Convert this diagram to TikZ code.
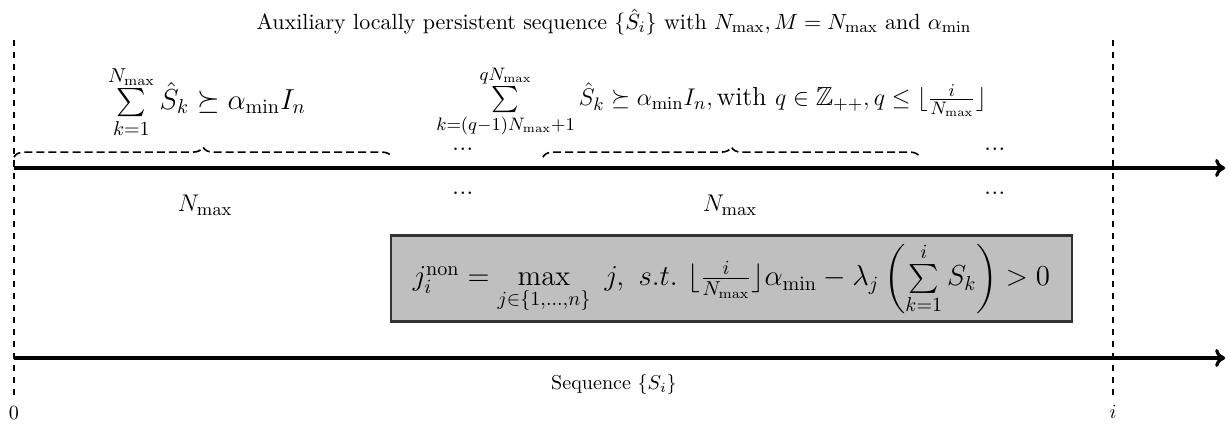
\documentclass[tikz,border=0pt]{standalone}
\usepackage{amsmath,amssymb}
\usepackage{tikz}
\usetikzlibrary{arrows.meta,decorations.pathreplacing,positioning}

\begin{document}
\begin{tikzpicture}[>={To[length=5pt,width=9pt]},
    axis/.style={->,ultra thick},
    bound/.style={dashed,thick},
    dbrace/.style={decorate,decoration={brace,amplitude=5pt},thick,dash pattern=on 4pt off 2pt},
    formula/.style={font=\fontsize{13}{15}\selectfont},
    condbox/.style={font=\fontsize{14.4}{17}\selectfont,draw=black!80,line width=1.2pt,fill=black!25,minimum width=11.92cm,minimum height=1.49cm}]
    \useasboundingbox (0,0) rectangle (21.5075,7.56);
    \coordinate (A0) at (0.245,4.62);
    \coordinate (A1) at (21.44,4.62);
    \coordinate (B0) at (0.245,1.295);
    \coordinate (B1) at (21.44,1.295);
    % bounds 0 and i
    \node (zero) at (0.245,0.33) {$0$};
    \node (idx) at (19.48,0.35) {$i$};
    \draw[bound] (0.245,6.86) coordinate (T0) -- (zero.north);
    \draw[bound] (19.48,6.86) coordinate (Ti) -- (idx.north);
    % auxiliary sequence
    \node[font=\fontsize{10.95}{13}\selectfont] (title) at (10.745,7.175) {Auxiliary locally persistent sequence $\{\hat{S}_i\}$ with $N_{\max}, M=N_{\max}$ and $\alpha_{\min}$};
    \draw[axis] (A0) -- (A1);
    \node[formula,font=\fontsize{14}{16}\selectfont] (first) at (3.62,5.78) {$\sum\limits_{k=1}^{N_{\max}} \hat{S}_k \succeq \alpha_{\min} I_n$};
    \node[formula] (block) at (12.45,5.78) {$\sum\limits_{k=(q-1)N_{\max}+1}^{qN_{\max}} \hat{S}_k \succeq \alpha_{\min} I_n, \text{with}\ q \in \mathbb{Z}_{++}, q \leq \lfloor \frac{i}{N_{\max}} \rfloor$};
    \draw[dbrace] (0.245,4.81) -- (6.86,4.81);
    \draw[dbrace] (9.50,4.81) -- (16.10,4.81);
    \node[formula] (n1) at (3.59,3.97) {$N_{\max}$};
    \node[formula] (n2) at (12.775,3.97) {$N_{\max}$};
    \foreach \x/\n in {8.10/a,17.41/b} {
        \node[formula] (up\n) at (\x,4.95) {...};
        \node[formula] (dn\n) at (\x,4.18) {...};
    }
    % original sequence
    \draw[axis] (B0) -- (B1);
    \node (seq) at (10.745,0.84) {Sequence $\{S_i\}$};
    \node[condbox] (cond) at (12.80,2.686) {$j_i^{\text{non}} = \max\limits_{j\in\{1,\dots,n\}}\ j,\ s.t.\ \lfloor\frac{i}{N_{\max}}\rfloor\alpha_{\min} - \lambda_j\left(\sum\limits_{k=1}^{i} S_k\right) > 0$};
\end{tikzpicture}
\end{document}
